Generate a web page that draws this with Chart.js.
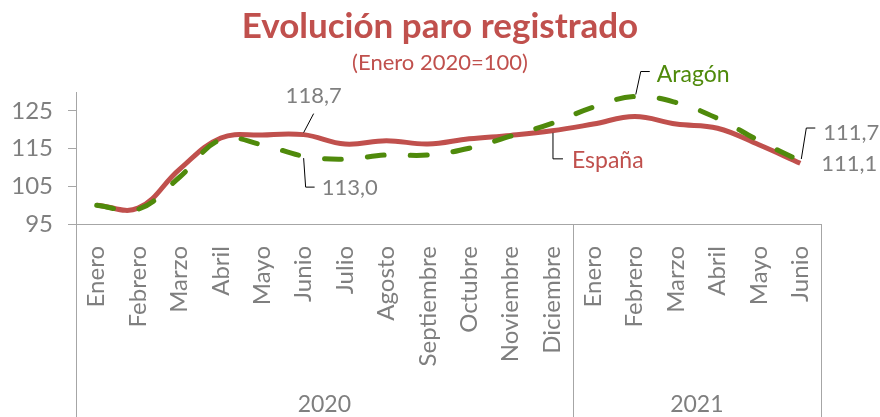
<!DOCTYPE html>
<html lang="es">
<head>
    <meta charset="UTF-8">
    <title>Evolución paro registrado</title>
    <script src="https://cdn.jsdelivr.net/npm/chart.js"></script>
    <style>
        body { margin: 0; background: #fff; }
        #wrap { width: 880px; height: 417px; }
    </style>
</head>
<body>
    <div id="wrap"><canvas id="paroChart" width="880" height="417"></canvas></div>

    <script>
        // Meses (dos años: 2020 completo, 2021 hasta junio)
        const meses = ['Enero', 'Febrero', 'Marzo', 'Abril', 'Mayo', 'Junio', 'Julio', 'Agosto',
            'Septiembre', 'Octubre', 'Noviembre', 'Diciembre',
            'Enero', 'Febrero', 'Marzo', 'Abril', 'Mayo', 'Junio'];
        const anios = ['2020', '2021'];
        const mesesPorAnio = [12, 6];

        // Índice Enero 2020 = 100
        const espana = [100, 99.2, 109.5, 117.8, 118.6, 118.7, 116.2, 117.1, 116.2, 117.6, 118.5, 119.7,
            121.5, 123.5, 121.5, 120.4, 116.0, 111.1];
        const aragon = [100, 98.9, 107.4, 117.4, 116.0, 113.0, 112.2, 113.3, 113.3, 115.1, 118.3, 121.7,
            126.0, 128.8, 127.2, 123.0, 117.1, 111.7];

        const yTicks = [95, 105, 115, 125];

        const titulo = 'Evolución paro registrado';
        const subtitulo = '(Enero 2020=100)';

        const ROJO = '#C0504D';
        const VERDE = '#4F8A0B';
        const GRIS = '#7F7F7F';
        const EJE = '#A6A6A6';
        const FUENTE = 'Lato, "Open Sans", sans-serif';

        // Título centrado en todo el lienzo (no sólo en el área del gráfico)
        const cabecera = {
            id: 'cabecera',
            afterDraw(chart) {
                const ctx = chart.ctx;
                ctx.save();
                ctx.fillStyle = ROJO;
                ctx.textAlign = 'center';
                ctx.textBaseline = 'middle';
                ctx.font = 'bold 35px ' + FUENTE;
                ctx.fillText(titulo, chart.width / 2, 27);
                ctx.font = '22px ' + FUENTE;
                ctx.fillText(subtitulo, chart.width / 2, 63);
                ctx.restore();
            }
        };

        // Etiquetas, separadores de año y textos con línea guía
        const anotaciones = {
            id: 'anotaciones',
            afterDraw(chart) {
                const ctx = chart.ctx;
                const x = chart.scales.x;
                const y = chart.scales.y;
                const area = chart.chartArea;
                const H = chart.height;

                // separadores de grupo (años)
                ctx.save();
                ctx.strokeStyle = EJE;
                ctx.lineWidth = 1;
                const bordes = [area.left];
                let acc = 0;
                mesesPorAnio.forEach(n => {
                    acc += n;
                    if (acc < meses.length) {
                        bordes.push((x.getPixelForValue(acc - 1) + x.getPixelForValue(acc)) / 2);
                    } else {
                        bordes.push(area.right);
                    }
                });
                bordes.forEach(b => {
                    const bx = Math.round(b) + 0.5;
                    ctx.beginPath();
                    ctx.moveTo(bx, area.bottom);
                    ctx.lineTo(bx, H);
                    ctx.stroke();
                });

                ctx.fillStyle = GRIS;
                ctx.font = '23px ' + FUENTE;
                ctx.textAlign = 'center';
                ctx.textBaseline = 'middle';
                anios.forEach((a, i) => {
                    ctx.fillText(a, (bordes[i] + bordes[i + 1]) / 2, H - 12);
                });

                // textos de valores y series
                const punto = (serie, i) => ({ px: x.getPixelForValue(i), py: y.getPixelForValue(serie[i]) });
                const fmt = v => v.toFixed(1).replace('.', ',');
                ctx.strokeStyle = '#000';
                ctx.lineWidth = 1;
                ctx.font = '22px ' + FUENTE;

                const guia = (pts) => {
                    ctx.beginPath();
                    ctx.moveTo(pts[0][0], pts[0][1]);
                    for (let k = 1; k < pts.length; k++) ctx.lineTo(pts[k][0], pts[k][1]);
                    ctx.stroke();
                };

                // 118,7 (España, junio 2020)
                let p = punto(espana, 5);
                guia([[p.px, p.py - 2], [p.px + 10, p.py - 21]]);
                ctx.fillStyle = GRIS;
                ctx.textAlign = 'center';
                ctx.fillText(fmt(espana[5]), p.px + 10, p.py - 39);

                // 113,0 (Aragón, junio 2020)
                p = punto(aragon, 5);
                guia([[p.px, p.py + 2], [p.px + 2, p.py + 31], [p.px + 11, p.py + 31]]);
                ctx.textAlign = 'left';
                ctx.fillText(fmt(aragon[5]), p.px + 18, p.py + 32);

                // España (diciembre 2020)
                ctx.font = '23px ' + FUENTE;
                p = punto(espana, 11);
                guia([[p.px + 1, p.py + 2], [p.px + 1, p.py + 28], [p.px + 11, p.py + 28]]);
                ctx.fillStyle = ROJO;
                ctx.fillText('España', p.px + 20, p.py + 30);

                // Aragón (febrero 2021)
                p = punto(aragon, 13);
                guia([[p.px + 1, p.py - 2], [p.px + 6, p.py - 25], [p.px + 15, p.py - 25]]);
                ctx.fillStyle = VERDE;
                ctx.fillText('Aragón', p.px + 22, p.py - 22);

                // 111,7 y 111,1 (junio 2021)
                ctx.font = '22px ' + FUENTE;
                const last = meses.length - 1;
                p = punto(aragon, last);
                guia([[p.px + 1, p.py - 2], [p.px + 6, p.py - 33], [p.px + 15, p.py - 33]]);
                ctx.fillStyle = GRIS;
                ctx.fillText(fmt(aragon[last]), p.px + 23, p.py - 28);
                p = punto(espana, last);
                ctx.fillText(fmt(espana[last]), p.px + 21, p.py + 1);

                ctx.restore();
            }
        };

        const ctx = document.getElementById('paroChart').getContext('2d');
        new Chart(ctx, {
            type: 'line',
            data: {
                labels: meses,
                datasets: [
                    {
                        label: 'España',
                        data: espana,
                        borderColor: ROJO,
                        borderWidth: 5,
                        pointRadius: 0,
                        tension: 0.4,
                        fill: false,
                        order: 2
                    },
                    {
                        label: 'Aragón',
                        data: aragon,
                        borderColor: VERDE,
                        borderWidth: 5,
                        borderDash: [17, 26],
                        borderCapStyle: 'round',
                        pointRadius: 0,
                        tension: 0.4,
                        fill: false,
                        order: 1
                    }
                ]
            },
            options: {
                responsive: false,
                animation: false,
                layout: { padding: { left: 0, right: 59, top: 92, bottom: 0 } },
                plugins: {
                    legend: { display: false },
                    tooltip: { enabled: false },
                    title: { display: false }
                },
                scales: {
                    x: {
                        offset: true,
                        grid: { display: false },
                        border: { display: true, color: EJE, width: 1 },
                        ticks: {
                            autoSkip: false,
                            minRotation: 90,
                            maxRotation: 90,
                            padding: 14,
                            color: GRIS,
                            font: { family: FUENTE, size: 24 }
                        },
                        afterFit(scale) { scale.height = 193; }
                    },
                    y: {
                        min: 95,
                        max: 130,
                        grid: { drawOnChartArea: false, drawTicks: true, tickLength: 8, color: EJE },
                        border: { display: true, color: EJE, width: 1 },
                        ticks: {
                            padding: 15,
                            color: GRIS,
                            font: { family: FUENTE, size: 24 }
                        },
                        afterBuildTicks(scale) { scale.ticks = yTicks.map(v => ({ value: v })); },
                        afterFit(scale) { scale.width = 76; }
                    }
                }
            },
            plugins: [cabecera, anotaciones]
        });
    </script>
</body>
</html>
